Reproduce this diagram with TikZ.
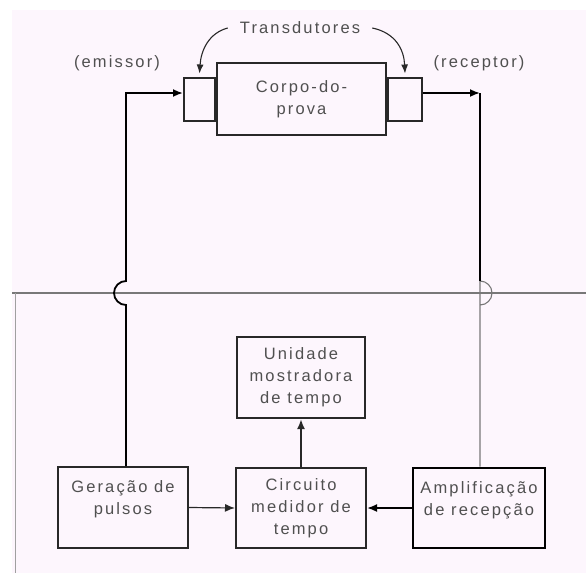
\documentclass[tikz,border=0pt]{standalone}
\usepackage{fontspec}
\setmainfont{Liberation Sans}[LetterSpace=13]
\usetikzlibrary{arrows.meta}
\definecolor{fundo}{RGB}{253,246,253}
\definecolor{traco}{RGB}{40,40,40}
\definecolor{texto}{RGB}{80,80,80}
\definecolor{cinza}{RGB}{120,120,120}
\begin{document}
\begin{tikzpicture}[x=1pt,y=-1pt,
      every node/.style={text=texto,font=\fontsize{16.5}{22}\selectfont,align=center,inner sep=0pt},
      bloco/.style={draw=traco,line width=2pt,fill=fundo},
      fio/.style={line width=1.8pt},
      fino/.style={line width=1.1pt,draw=cinza},
      seta/.style={-{Latex[length=10pt,width=8pt]}}]
    \useasboundingbox (0,0) rectangle (586,573);
    \fill[white] (0,0) rectangle (586,573);
    \fill[fundo] (12,10) rectangle (586,573);
    \draw[line width=2.5pt,draw=cinza] (12,293) -- (586,293);
    \draw[line width=0.8pt,draw=cinza!70] (15,293) -- (15,573);
    \node[bloco,minimum width=169,minimum height=72] (corpo) at (301.5,99) {Corpo-do-\\prova};
    \node[bloco,minimum width=31,minimum height=43,anchor=east] (emis) at (corpo.west) {};
    \node[bloco,minimum width=34,minimum height=43,anchor=west] (recp) at (corpo.east) {};
    \node (trans) at (300,28) {Transdutores};
    \node (lemis) at (117,63) {(emissor)};
    \node (lrecp) at (479,63) {(receptor)};
    \node[bloco,minimum width=128,minimum height=81] (unid) at (301,377.5) {Unidade\\mostradora\\de tempo};
    \node[bloco,minimum width=130,minimum height=80] (circ) at (301,508) {Circuito\\medidor de\\tempo};
    \node[bloco,minimum width=130,minimum height=81] (gera) at (123,507.5) {};
    \node at ([yshift=8pt]gera.center) {Geração de\\pulsos};
    \node[bloco,minimum width=132,minimum height=80,line width=2.6pt,draw=black] (ampl) at (479,508) {};
    \node at ([yshift=8pt]ampl.center) {Amplificação\\de recepção};
    \coordinate (ce) at (126,93);
    \coordinate (cd) at (480,93);
    \draw[fio,seta] (gera.north -| ce) -- (126,305)
        arc[start angle=90,end angle=270,radius=12] -- (ce) -- (emis.west |- ce);
    \draw[fio,seta] (recp.east |- cd) -- (cd);
    \draw[fino] (cd) -- (480,305) arc[start angle=90,end angle=-90,radius=12] -- (ampl.north -| cd);
    \draw[fio,draw=black] (cd) -- (480,281);
    \draw[line width=1.2pt,draw=traco,seta] (gera.east) -- (circ.west);
    \draw[fio,seta] (ampl.west) -- (circ.east);
    \draw[line width=2.4pt,draw=traco,seta] (circ.north) -- (unid.south);
    \draw[fino,-{Latex[length=9pt,width=7pt]},draw=traco] ([xshift=-12pt]trans.west) .. controls (209,33) and (201,50) .. ([yshift=3pt]emis.north);
    \draw[fino,-{Latex[length=9pt,width=7pt]},draw=traco] ([xshift=12pt]trans.east) .. controls (396,33) and (404,50) .. ([yshift=3pt]recp.north);
\end{tikzpicture}
\end{document}
